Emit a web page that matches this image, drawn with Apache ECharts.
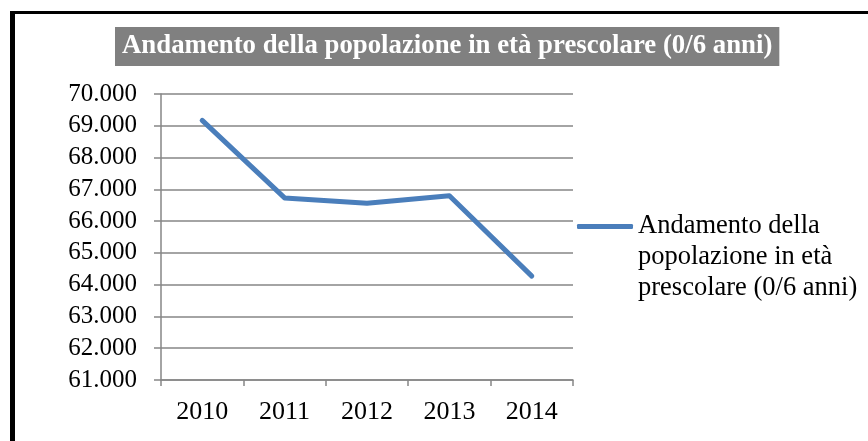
<!DOCTYPE html>
<html>
<head>
    <meta charset="utf-8">
    <title>Popolazione prescolare</title>
    <script src="https://cdn.jsdelivr.net/npm/echarts@6/dist/echarts.min.js"></script>
    <style>
        html, body {margin:0;padding:0;background:#fff}
        #chart {width:868px;height:441px}
    </style>
</head>
<body>
<div id="chart"></div>
<script>
    var anni = ['2010', '2011', '2012', '2013', '2014'];
    var popolazione = [69170, 66730, 66560, 66800, 64270];
    var nomeSerie = 'Andamento della popolazione in età prescolare (0/6 anni)';
    var titolo = 'Andamento della popolazione in età prescolare (0/6 anni)';

    var font = 'Liberation Serif';

    // 70000 -> "70.000"
    function formatta(v) {
        var s = String(Math.round(v));
        return s.replace(/\B(?=(\d{3})+(?!\d))/g, '.');
    }

    var chart = echarts.init(document.getElementById('chart'));
    var option = {
        animation: false,
        title: {
            text: titolo,
            left: 115,
            top: 27,
            padding: [6, 7, 6, 7],
            backgroundColor: '#808080',
            textStyle: {color: '#fff', fontFamily: font, fontWeight: 'bold', fontSize: 26.8, lineHeight: 27}
        },
        legend: {
            left: 577,
            top: 149,
            padding: 0,
            orient: 'vertical',
            icon: 'roundRect',
            itemWidth: 56,
            itemHeight: 5,
            itemGap: 5,
            // two empty lines first so the line marker sits beside the first row
            formatter: function () {
                return '\n\nAndamento della\npopolazione in età\nprescolare (0/6 anni)';
            },
            textStyle: {fontFamily: font, fontSize: 26.5, color: '#000', lineHeight: 31}
        },
        grid: {left: 161, right: 295, top: 94, bottom: 61},
        xAxis: {
            type: 'category',
            data: anni,
            boundaryGap: true,
            axisLine: {lineStyle: {color: '#868686', width: 1.5}},
            axisTick: {show: true, length: 6, lineStyle: {color: '#868686', width: 1.5}},
            axisLabel: {color: '#000', fontFamily: font, fontSize: 26, margin: 19}
        },
        yAxis: {
            type: 'value',
            min: 61000,
            max: 70000,
            interval: 1000,
            axisLine: {show: true, lineStyle: {color: '#868686', width: 1.5}},
            axisTick: {show: true, length: 7, lineStyle: {color: '#868686', width: 1.5}},
            splitLine: {lineStyle: {color: '#868686', width: 1.5}},
            axisLabel: {color: '#000', fontFamily: font, fontSize: 25, margin: 24, formatter: formatta}
        },
        series: [{
            name: nomeSerie,
            type: 'line',
            data: popolazione,
            symbol: 'none',
            lineStyle: {color: '#4a7ebb', width: 5, cap: 'round', join: 'round'},
            itemStyle: {color: '#4a7ebb'}
        }],
        graphic: [
            {type: 'rect', shape: {x: 10, y: 11, width: 5, height: 440}, style: {fill: '#000'}},
            {type: 'rect', shape: {x: 10, y: 11, width: 868, height: 3}, style: {fill: '#000'}}
        ]
    };
    chart.setOption(option);
</script>
</body>
</html>
